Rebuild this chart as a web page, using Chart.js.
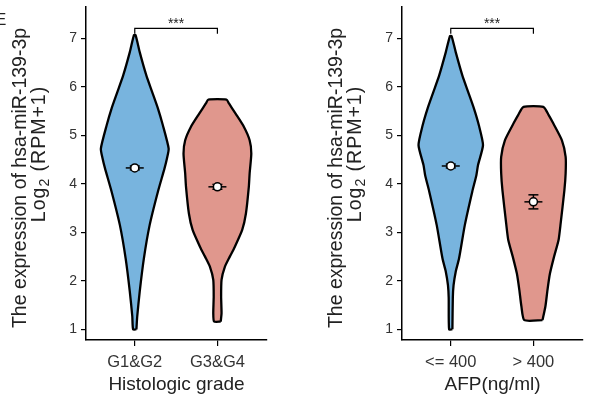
<!DOCTYPE html>
<html lang="en">
<head>
<meta charset="UTF-8">
<title>hsa-miR-139-3p violin plots</title>
<script src="https://cdn.jsdelivr.net/npm/chart.js@4.4.1/dist/chart.umd.min.js"></script>
<style>
    body { margin: 0; background: #fff; width: 592px; height: 409px; position: relative; overflow: hidden; }
    .panel { position: absolute; top: 0; width: 276px; height: 409px; }
</style>
</head>
<body>
<div class="panel" style="left:0"><canvas id="gradeChart" width="276" height="409"></canvas></div>
<div class="panel" style="left:316px"><canvas id="afpChart" width="276" height="409"></canvas></div>
<script>
    const yTicks = [1, 2, 3, 4, 5, 6, 7];
    const gradeGroups = ['G1&G2', 'G3&G4'];
    const afpGroups = ['<= 400', '> 400'];

    // violin outlines: expression level and half width of the density there
    const g12Levels = [1.00, 1.27, 1.78, 2.46, 3.15, 3.84, 4.32, 4.53, 4.73, 5.21, 5.56, 5.90, 6.24, 6.72, 7.07];
    const g12Widths = [0.02, 0.03, 0.06, 0.11, 0.18, 0.28, 0.36, 0.39, 0.41, 0.34, 0.28, 0.21, 0.14, 0.06, 0.01];
    const g34Levels = [1.16, 1.33, 1.67, 2.02, 2.29, 2.50, 2.70, 3.05, 3.39, 3.94, 4.22, 4.63, 4.90, 5.18, 5.45, 5.66, 5.74];
    const g34Widths = [0.04, 0.05, 0.045, 0.05, 0.09, 0.15, 0.21, 0.30, 0.345, 0.38, 0.39, 0.41, 0.39, 0.32, 0.22, 0.14, 0.11];
    const lowLevels = [1.00, 1.65, 1.91, 2.19, 2.46, 3.15, 3.84, 4.18, 4.39, 4.80, 5.21, 5.56, 5.90, 6.24, 6.72, 7.05];
    const lowWidths = [0.02, 0.025, 0.034, 0.06, 0.10, 0.17, 0.26, 0.31, 0.33, 0.39, 0.34, 0.28, 0.21, 0.14, 0.06, 0.01];
    const highLevels = [1.19, 1.47, 1.81, 2.15, 2.50, 2.85, 3.19, 3.87, 4.22, 4.56, 4.90, 5.25, 5.42, 5.59];
    const highWidths = [0.11, 0.145, 0.17, 0.20, 0.25, 0.305, 0.33, 0.375, 0.39, 0.39, 0.345, 0.24, 0.185, 0.12];

    // mean and standard error
    const gradeMeans = [4.33, 3.94];
    const gradeErr = [0.04, 0.05];
    const afpMeans = [4.37, 3.63];
    const afpErr = [0.04, 0.145];

    const blue = '#78b4de';
    const pink = '#e0978d';
    const font = '"Liberation Sans", Arial, Helvetica, sans-serif';

    function outline(pos, levels, widths) {
        let right = levels.map((v, i) => ({ x: pos + widths[i], y: v }));
        let left = levels.map((v, i) => ({ x: pos - widths[i], y: v })).reverse();
        return right.concat(left, [right[0]]);
    }

    function summaryDatasets(means, errs) {
        let sets = [];
        means.forEach((m, i) => {
            let pos = i + 1;
            sets.push({ data: [{ x: pos, y: m }], pointStyle: 'circle', pointRadius: 4, pointBackgroundColor: '#fff', pointBorderColor: '#000', pointBorderWidth: 1.5, order: 0 });
            sets.push({ data: [{ x: pos, y: m }], pointStyle: 'line', pointRadius: 9, pointBorderColor: '#000', pointBorderWidth: 1.5, order: 1 });
            sets.push({ data: [{ x: pos, y: m - errs[i] }, { x: pos, y: m + errs[i] }], showLine: true, borderColor: '#000', borderWidth: 1.5,
                pointStyle: 'line', pointRadius: 5, pointBorderColor: '#000', pointBorderWidth: 1.5, order: 1 });
        });
        return sets;
    }

    function titlePlugin(xTitle, showLetter) {
        return {
            id: 'titles',
            afterDraw(chart) {
                let ctx = chart.ctx;
                let area = chart.chartArea;
                let x = chart.scales.x, y = chart.scales.y;
                ctx.save();
                ctx.fillStyle = '#222';
                // significance mark
                ctx.font = '14px ' + font;
                ctx.textAlign = 'center';
                ctx.textBaseline = 'alphabetic';
                ctx.fillText('***', x.getPixelForValue(1.5), y.getPixelForValue(7.26) + 2);
                // x title
                ctx.font = '19px ' + font;
                ctx.fillText(xTitle, (area.left + area.right) / 2, 390);
                // y title, two lines
                ctx.save();
                ctx.translate(26, 178);
                ctx.rotate(-Math.PI / 2);
                ctx.font = '19.5px ' + font;
                ctx.fillText('The expression of hsa-miR-139-3p', 0, 0);
                ctx.restore();
                ctx.save();
                ctx.translate(45, 154);
                ctx.rotate(-Math.PI / 2);
                ctx.textAlign = 'left';
                ctx.letterSpacing = '1px';
                let a = 'Log', c = ' (RPM+1)';
                ctx.font = '19.5px ' + font;
                let wa = ctx.measureText(a).width, wc = ctx.measureText(c).width;
                ctx.font = '14px ' + font;
                let wb = ctx.measureText('2').width;
                let start = -(wa + wb + wc) / 2;
                ctx.font = '19.5px ' + font;
                ctx.fillText(a, start, 0);
                ctx.font = '14px ' + font;
                ctx.fillText('2', start + wa, 4);
                ctx.font = '19.5px ' + font;
                ctx.fillText(c, start + wa + wb, 0);
                ctx.restore();
                if (showLetter) {
                    ctx.textAlign = 'left';
                    ctx.font = '17px ' + font;
                    ctx.fillText('E', -5, 25);
                }
                ctx.restore();
            }
        };
    }

    function makeChart(id, groups, violinA, violinB, means, errs, xTitle, showLetter) {
        let datasets = [
            { data: violinA, showLine: true, fill: 'shape', backgroundColor: blue, borderColor: '#000', borderWidth: 2.3, pointRadius: 0, tension: 0.2, order: 5 },
            { data: violinB, showLine: true, fill: 'shape', backgroundColor: pink, borderColor: '#000', borderWidth: 2.3, pointRadius: 0, tension: 0.2, order: 5 },
            { data: [{ x: 1, y: 7.1 }, { x: 1, y: 7.21 }, { x: 2, y: 7.21 }, { x: 2, y: 7.1 }], showLine: true, borderColor: '#000', borderWidth: 1.2, pointRadius: 0, tension: 0, order: 4 }
        ].concat(summaryDatasets(means, errs));

        let ctx = document.getElementById(id).getContext('2d');
        return new Chart(ctx, {
            type: 'scatter',
            data: { datasets: datasets },
            options: {
                responsive: false,
                animation: false,
                devicePixelRatio: 1,
                layout: { autoPadding: false, padding: { top: 7, right: 9, left: 0, bottom: 0 } },
                plugins: { legend: { display: false }, tooltip: { enabled: false } },
                scales: {
                    x: {
                        type: 'linear', min: 0.41, max: 2.6,
                        afterBuildTicks: s => { s.ticks = [{ value: 1 }, { value: 2 }]; },
                        afterFit: s => { s.height = 69; s.paddingLeft = 0; s.paddingRight = 0; },
                        ticks: { callback: (v, i) => groups[i], font: { size: 16.5, family: font }, color: '#333', padding: 7, maxRotation: 0, autoSkip: false },
                        grid: { drawOnChartArea: false, tickLength: 6, color: '#000', lineWidth: 1.2 },
                        border: { color: '#000', width: 1.5 }
                    },
                    y: {
                        min: 0.78, max: 7.65,
                        afterBuildTicks: s => { s.ticks = yTicks.map(v => ({ value: v })); },
                        afterFit: s => { s.width = 86; s.paddingTop = 0; s.paddingBottom = 0; },
                        ticks: { font: { size: 14, family: font }, color: '#333', padding: 4, autoSkip: false },
                        grid: { drawOnChartArea: false, tickLength: 5, color: '#000', lineWidth: 1.2 },
                        border: { color: '#000', width: 1.5 }
                    }
                }
            },
            plugins: [titlePlugin(xTitle, showLetter)]
        });
    }

    makeChart('gradeChart', gradeGroups, outline(1, g12Levels, g12Widths), outline(2, g34Levels, g34Widths),
        gradeMeans, gradeErr, 'Histologic grade', true);
    makeChart('afpChart', afpGroups, outline(1, lowLevels, lowWidths), outline(2, highLevels, highWidths),
        afpMeans, afpErr, 'AFP(ng/ml)', false);
</script>
</body>
</html>
